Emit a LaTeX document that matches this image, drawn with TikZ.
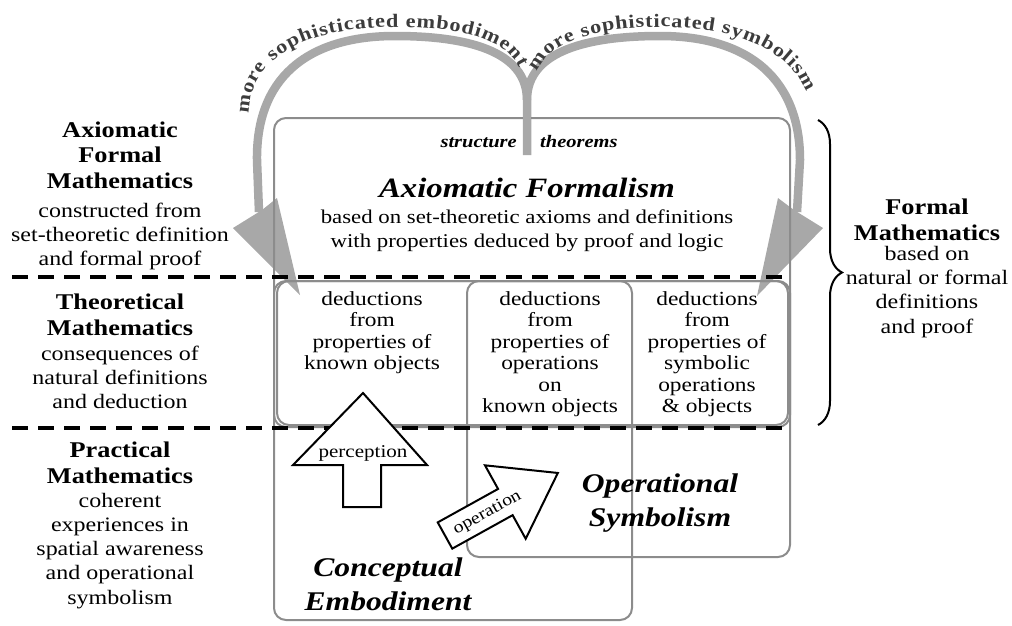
\documentclass[tikz,border=0pt]{standalone}
\usepackage{fontspec}
\setmainfont{Liberation Serif}[FakeStretch=1.17]
\usetikzlibrary{decorations.text,decorations.pathreplacing}
\definecolor{arcgray}{HTML}{A8A8A8}
\definecolor{boxgray}{HTML}{8C8C8C}
\definecolor{arctext}{HTML}{3C3C3C}
\newcommand\sideTitleFont{\fontsize{22.5}{25.5}\selectfont\bfseries}
\newcommand\sideBodyFont{\fontsize{20.5}{24.2}\selectfont}
\newcommand\dedFont{\fontsize{20}{21.5}\selectfont}
\newcommand\bigBIFont{\fontsize{27}{34}\selectfont\bfseries\itshape}
\begin{document}
\begin{tikzpicture}[x=1pt,y=-1pt,
  sidetitle/.style={anchor=base,align=center,inner sep=0pt,font=\sideTitleFont},
  sidebody/.style={anchor=base,align=center,inner sep=0pt,font=\sideBodyFont},
  dedtext/.style={anchor=base,align=center,inner sep=0pt,font=\dedFont},
  bigbi/.style={anchor=base,align=center,inner sep=0pt,font=\bigBIFont},
  boxline/.style={draw=boxgray,line width=2pt,rounded corners=12pt},
  arcline/.style={draw=arcgray,line width=8.5pt},
  archead/.style={fill=arcgray,draw=none},
  dashline/.style={draw=black,line width=4pt,dash pattern=on 16pt off 10pt},
  blockarrow/.style={draw=black,fill=white,line width=2pt,line join=miter},
  arclabel/.style={decorate,decoration={text along path,text align=fit to path,text color=arctext}}
]
\useasboundingbox (0,0) rectangle (1012,625);

% gray arcs with arrowheads
\draw[arcline] (527,155) -- (527,100) .. controls (527,50) and (465,36) .. (395,36)
  .. controls (305,36) and (256,80) .. (257,160) -- (259,212);
\draw[arcline] (527,100) .. controls (527,50) and (590,36) .. (660,36)
  .. controls (750,36) and (800,80) .. (800,160) -- (797,212);
\fill[archead] (233,228) -- (262,210) -- (277,198) -- (300,295) -- cycle;
\fill[archead] (823,228) -- (794,210) -- (778,198) -- (757,296) -- cycle;

% arc labels
\path[arclabel,decoration={text={|\fontsize{19}{21}\selectfont\bfseries|more sophisticated embodiment}}]
  (249,114) .. controls (249,62) and (300,27) .. (395,27) .. controls (465,27) and (506,40) .. (519,68);
\path[arclabel,decoration={text={|\fontsize{19}{21}\selectfont\bfseries|more sophisticated symbolism}}]
  (537,72) .. controls (550,40) and (600,27) .. (660,27) .. controls (740,27) and (790,52) .. (806,92);

% boxes
\draw[boxline] (274,118) rectangle (790,427);
\draw[boxline] (277,281) rectangle (788,425);
\draw[boxline] (274,281) rectangle (632,620);
\draw[boxline] (467,281) rectangle (790,557);

% stem over the top edge
\draw[arcline] (527,155) -- (527,105);

% dashed separators
\draw[dashline] (12,277) -- (782,277);
\draw[dashline] (12,428) -- (782,428);

% brace
\draw[line width=2pt,decorate,decoration={brace,amplitude=24pt}] (818,120) -- (818,425);

% left column (base = last line)
\node[sidetitle] (afmT) at (120,188) {Axiomatic\\Formal\\Mathematics};
\node[sidebody] (afmB) at (120,265.5) {constructed from\\set-theoretic definition\\and formal proof};
\node[sidetitle] (tmT) at (120,335) {Theoretical\\Mathematics};
\node[sidebody] (tmB) at (120,408.5) {consequences of\\natural definitions\\and deduction};
\node[sidetitle] (pmT) at (120,483) {Practical\\Mathematics};
\node[sidebody] (pmB) at (120,604) {coherent\\experiences in\\spatial awareness\\and operational\\symbolism};

% right column
\node[sidetitle] (fmT) at (927,240) {Formal\\Mathematics};
\node[sidebody] (fmB) at (927,333) {based on\\natural or formal\\definitions\\and proof};

% centre texts
\node[anchor=base east,inner sep=0pt,font=\fontsize{17.5}{20}\selectfont\bfseries\itshape] (struct) at (517,147) {structure};
\node[anchor=base west,inner sep=0pt,font=\fontsize{17.5}{20}\selectfont\bfseries\itshape] (theo) at (540,147) {theorems};
\node[anchor=base,inner sep=0pt,font=\fontsize{28}{30}\selectfont\bfseries\itshape] (axf) at (527,197) {Axiomatic Formalism};
\node[anchor=base,align=center,inner sep=0pt,font=\fontsize{19.5}{24}\selectfont] (axfB) at (527,247) {based on set-theoretic axioms and definitions\\with properties deduced by proof and logic};

% deductions
\node[dedtext] (d1) at (372,369.5) {deductions\\from\\properties of\\known objects};
\node[dedtext] (d2) at (550,412.5) {deductions\\from\\properties of\\operations\\on\\known objects};
\node[dedtext] (d3) at (707,412.5) {deductions\\from\\properties of\\symbolic\\operations\\\& objects};

% perception arrow
\draw[blockarrow] (363,393) -- (427,465) -- (381,465) -- (381,507) -- (343,507) -- (343,465) -- (293,465) -- cycle;
\node[anchor=base,inner sep=0pt,font=\fontsize{18}{20}\selectfont] (perc) at (363,457) {perception};

% operation arrow
\begin{scope}[shift={(445,535.5)},rotate=29]
\draw[blockarrow] (0,15) -- (69,15) -- (69,42) -- (129,0) -- (69,-42) -- (69,-15) -- (0,-15) -- cycle;
\node[rotate=29,inner sep=0pt,font=\fontsize{17}{19}\selectfont] (oper) at (48,1) {operation};
\end{scope}

% big labels
\node[bigbi] (ce) at (388,610) {Conceptual\\Embodiment};
\node[bigbi] (os) at (660,526) {Operational\\Symbolism};
\end{tikzpicture}
\end{document}
